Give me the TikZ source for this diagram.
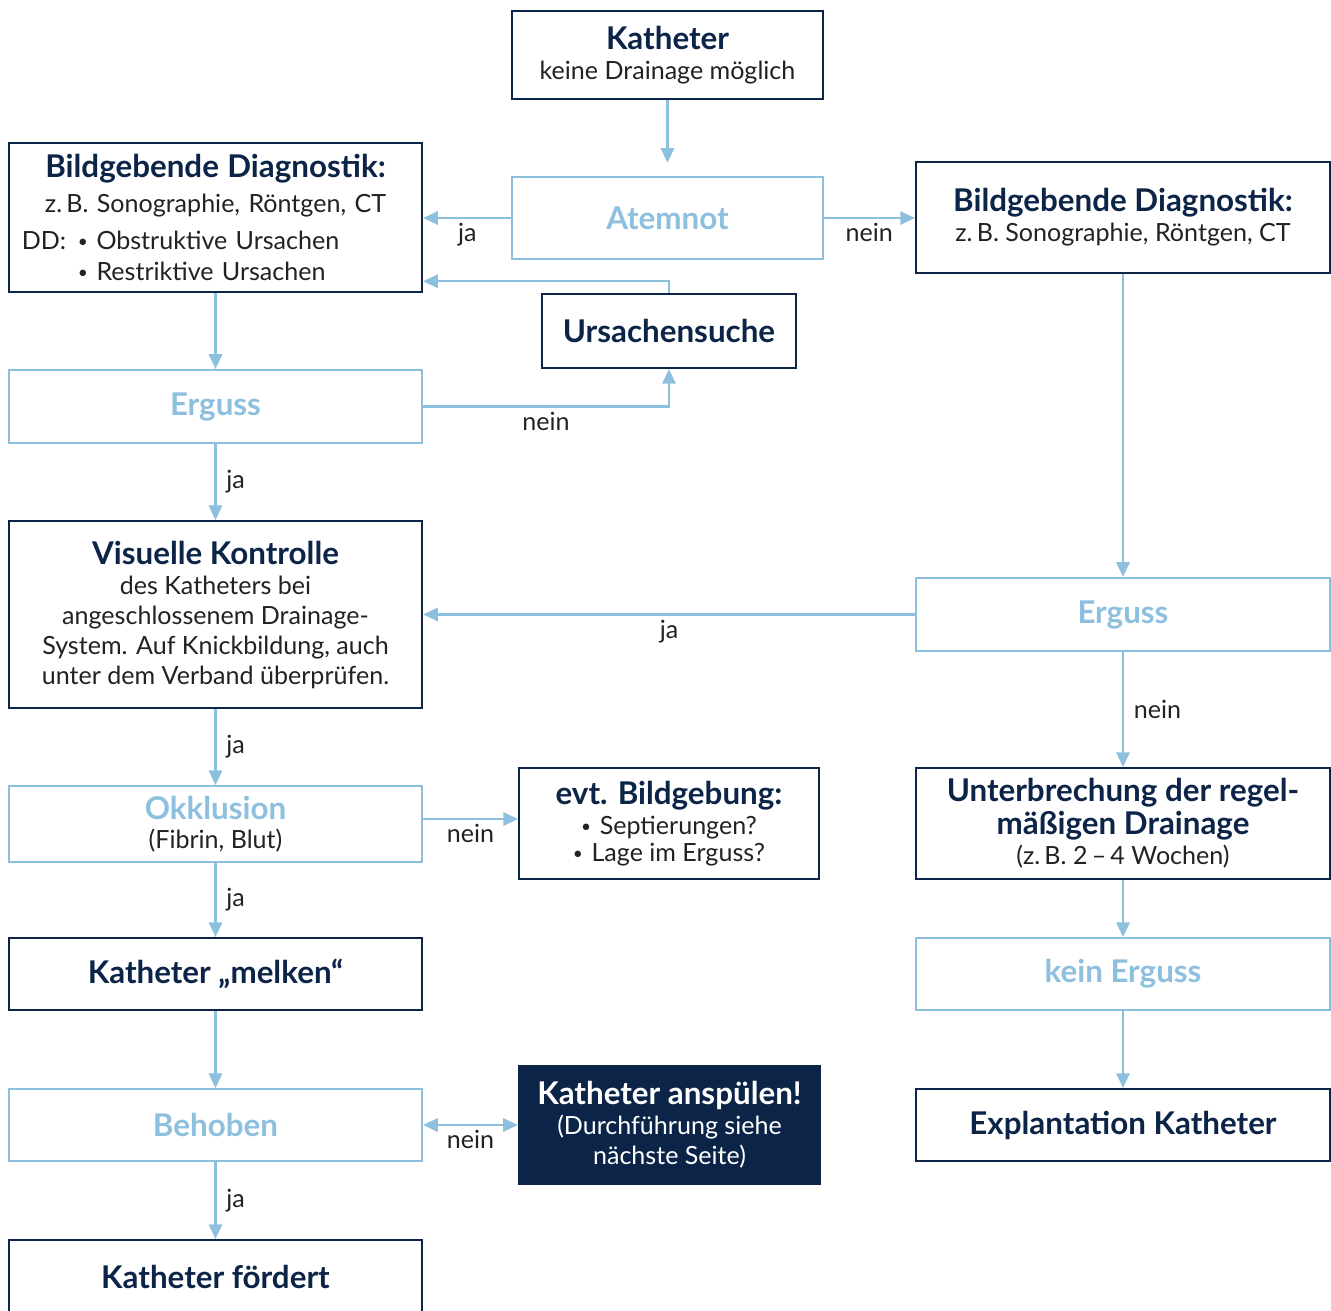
\documentclass[tikz,border=0pt]{standalone}
\usepackage{fontspec}
\setmainfont{Lato}
\usetikzlibrary{arrows.meta}
\definecolor{navy}{HTML}{0B2447}
\definecolor{lblue}{HTML}{8DBFDF}
\definecolor{txt}{HTML}{222222}
\newcommand{\ttl}[1]{{\color{navy}\bfseries\fontsize{23.5}{28}\selectfont #1}}
\newcommand{\nrm}{\fontsize{18.8}{22.5}\selectfont}
\newcommand{\blt}{\makebox[14pt][l]{\raisebox{.15ex}{\fontsize{13}{13}\selectfont\textbullet}}}

\begin{document}
\begin{tikzpicture}[x=.75pt,y=-.75pt,
    box/.style={draw=navy,line width=1.6pt,fill=white,text=txt,align=center,inner sep=0pt,font=\nrm},
    lbox/.style={draw=lblue,line width=1.4pt,fill=white,text=lblue,align=center,inner sep=0pt,font=\fontsize{23.5}{28}\selectfont\bfseries},
    arr/.style={draw=lblue,line width=1.6pt,-{Triangle[length=11pt,width=10pt]}},
    lbl/.style={text=txt,font=\nrm}]
    \useasboundingbox (0,0) rectangle (1331,1310);

    % middle column
    \node[box,minimum width=233pt,minimum height=66pt] (kath) at (667.5,55) {\ttl{Katheter}\\keine Drainage möglich};
    \node[lbox,minimum width=233pt,minimum height=61.5pt] (atem) at (667.5,218) {Atemnot};
    \node[box,minimum width=190.5pt,minimum height=55.5pt] (urs) at (669,331) {\ttl{Ursachensuche}};
    \node[box,minimum width=225pt,minimum height=83pt] (evt) at (669,823.5) {\ttl{evt. Bildgebung:}\\\blt Septierungen?\\[-2pt]\blt Lage im Erguss?};
    \node[box,fill=navy,text=white,minimum width=226pt,minimum height=88.5pt] (spuel) at (669.5,1125) {{\bfseries\fontsize{23.5}{28}\selectfont Katheter anspülen!}\\(Durchführung siehe\\nächste Seite)};

    % left column
    \node[box,minimum width=310pt,minimum height=112pt,text width=290.5pt,align=left] (bildL) at (215.5,217.5)
        {{\centering\ttl{Bildgebende Diagnostik:}\par}\vspace{4pt}{\centering z.\,B. Sonographie, Röntgen, CT\par}\vspace{5pt}\makebox[42pt][l]{DD:}\blt Obstruktive Ursachen\par\vspace{1pt}\hspace*{42pt}\blt Restriktive Ursachen};
    \node[lbox,minimum width=310pt,minimum height=55pt] (ergL) at (215.5,406.5) {Erguss};
    \node[box,minimum width=310pt,minimum height=140pt] (visu) at (215.5,614.5)
        {\ttl{Visuelle Kontrolle}\\des Katheters bei\\angeschlossenem Drainage-\\System. Auf Knickbildung, auch\\unter dem Verband überprüfen.};
    \node[lbox,minimum width=310pt,minimum height=57pt] (okk) at (215.5,824) {Okklusion\\[-6pt]{\mdseries\color{txt}\nrm(Fibrin, Blut)}};
    \node[box,minimum width=310pt,minimum height=54pt] (melk) at (215.5,974) {\ttl{Katheter „melken“}};
    \node[lbox,minimum width=310pt,minimum height=54pt] (beh) at (215.5,1125) {Behoben};
    \node[box,minimum width=310pt,minimum height=55.5pt] (foerd) at (215.5,1277) {\ttl{Katheter fördert}};

    % right column
    \node[box,minimum width=310.5pt,minimum height=83pt] (bildR) at (1123,217.5) {\ttl{Bildgebende Diagnostik:}\\z.\,B. Sonographie, Röntgen, CT};
    \node[lbox,minimum width=310.5pt,minimum height=55pt] (ergR) at (1123,614.5) {Erguss};
    \node[box,minimum width=310.5pt,minimum height=83pt] (unter) at (1123,823.5) {\ttl{Unterbrechung der regel-}\\[2pt]\ttl{mäßigen Drainage}\\(z.\,B. 2\,–\,4 Wochen)};
    \node[lbox,minimum width=310.5pt,minimum height=54pt] (kein) at (1123,974) {kein Erguss};
    \node[box,minimum width=310.5pt,minimum height=54pt] (expl) at (1123,1125) {\ttl{Explantation Katheter}};

    % connectors
    \draw[arr,shorten >=10pt] (kath) -- (atem);
    \draw[arr] (atem.west) -- (atem.west -| bildL.east) node[lbl,midway,below] {ja};
    \draw[arr] (atem.east) -- (atem.east -| bildR.west) node[lbl,midway,below] {nein};
    \draw[arr] (urs.north) |- ([yshift=9pt]bildL.south east);
    \draw[arr] (ergL.east) -| (urs.south) node[lbl,pos=.25,below] {nein};
    \draw[arr] (bildL) -- (ergL);
    \draw[arr] (ergL) -- (visu) node[lbl,midway,right,xshift=4pt] {ja};
    \draw[arr] (bildR) -- (ergR);
    \draw[arr] (ergR.west) -- (ergR.west -| visu.east) node[lbl,midway,below] {ja};
    \draw[arr] (ergR) -- (unter) node[lbl,midway,right,xshift=4pt] {nein};
    \draw[arr] (visu) -- (okk) node[lbl,midway,right,xshift=4pt] {ja};
    \draw[arr] ([yshift=3.75pt]okk.east) -- ([yshift=3.75pt]okk.east -| evt.west) node[lbl,midway,below] {nein};
    \draw[arr] (okk) -- (melk) node[lbl,midway,right,xshift=4pt] {ja};
    \draw[arr] (unter) -- (kein);
    \draw[arr] (kein) -- (expl);
    \draw[arr] (melk) -- (beh);
    \draw[arr,{Triangle[length=11pt,width=10pt]}-{Triangle[length=11pt,width=10pt]}] (beh) -- (spuel) node[lbl,midway,below] {nein};
    \draw[arr] (beh) -- (foerd) node[lbl,midway,right,xshift=4pt] {ja};
\end{tikzpicture}
\end{document}
